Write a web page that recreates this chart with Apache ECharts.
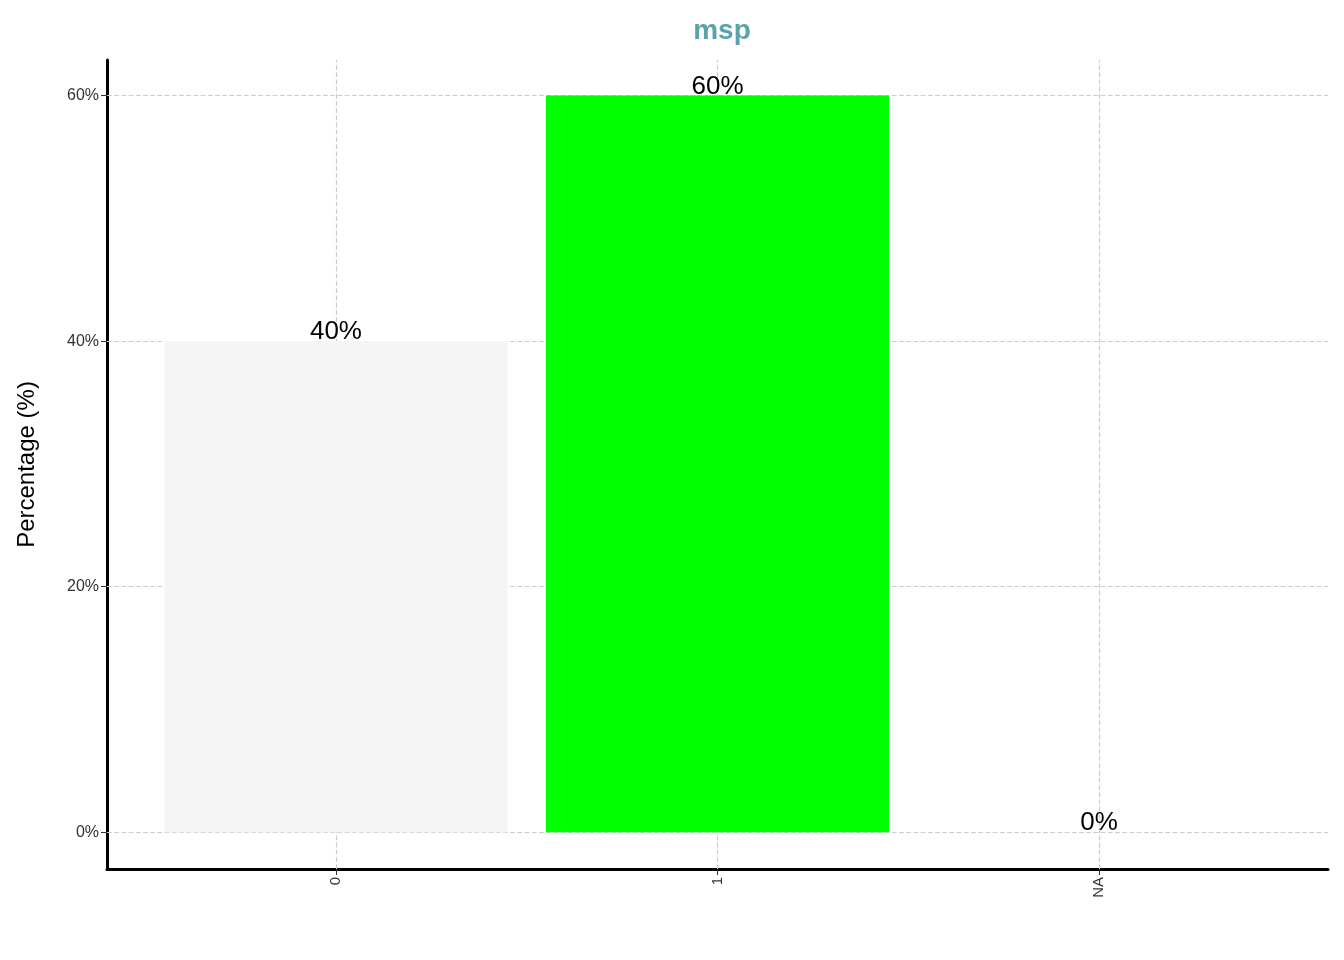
<!DOCTYPE html>
<html>
<head>
<meta charset="utf-8">
<script src="https://cdn.jsdelivr.net/npm/echarts@6/dist/echarts.min.js"></script>
<style>html,body{margin:0;background:#fff}#chart{width:1344px;height:960px}</style>
</head>
<body>
<div id="chart"></div>
<script>
var categories = ['0', '1', 'NA'];
var percentages = [40, 60, 0];
var barColors = ['#f5f5f5', '#00ff00', 'rgba(0,0,0,0)'];
var yTicks = [0, 20, 40, 60];

var myChart = echarts.init(document.getElementById('chart'));
var grid = { type: 'dashed', color: '#cccccc', width: 1.2 };

var option = {
  backgroundColor: '#fff',
  animation: false,
  title: {
    text: 'msp', left: 717, top: 12, textAlign: 'center',
    textStyle: { color: '#5ba3a9', fontSize: 28, fontWeight: 'bold', fontFamily: 'Liberation Sans' }
  },
  grid: { left: 107, right: 16, top: 60, bottom: 91 },
  xAxis: {
    type: 'value', min: -0.6, max: 2.6,
    splitLine: { show: false },
    axisLine: { show: true, onZero: false, lineStyle: { color: '#000', width: 3 } },
    axisTick: { show: true, customValues: [0, 1, 2], length: 6, lineStyle: { color: '#333' } },
    axisLabel: {
      customValues: [0, 1, 2], rotate: 90, fontSize: 15, color: '#333', fontFamily: 'Liberation Sans',
      formatter: function (v) { return categories[Math.round(v)]; }
    }
  },
  yAxis: {
    type: 'value', min: -3, max: 62.9,
    name: 'Percentage (%)', nameLocation: 'middle', nameGap: 68,
    nameTextStyle: { fontSize: 24, color: '#000', fontFamily: 'Liberation Sans' },
    splitLine: { show: false },
    axisLine: { show: true, onZero: false, lineStyle: { color: '#000', width: 3 } },
    axisTick: { show: true, customValues: yTicks, length: 6, lineStyle: { color: '#333' } },
    axisLabel: {
      customValues: yTicks, fontSize: 16, color: '#333', fontFamily: 'Liberation Sans',
      formatter: function (v) { return v + '%'; }
    }
  },
  series: [{
    type: 'bar',
    barWidth: 343,
    z: 3,
    data: percentages.map(function (v, i) {
      return { value: [i, v], itemStyle: { color: barColors[i] } };
    }),
    label: {
      show: true, position: 'top', distance: -4, fontSize: 26, color: '#000', fontFamily: 'Liberation Sans',
      formatter: function (p) { return p.value[1] + '%'; }
    },
    markLine: {
      silent: true, symbol: 'none', z: 1,
      label: { show: false },
      lineStyle: grid,
      data: yTicks.map(function (t) { return { yAxis: t }; })
        .concat(categories.map(function (c, i) { return { xAxis: i }; }))
    }
  }]
};
myChart.setOption(option);
</script>
</body>
</html>
